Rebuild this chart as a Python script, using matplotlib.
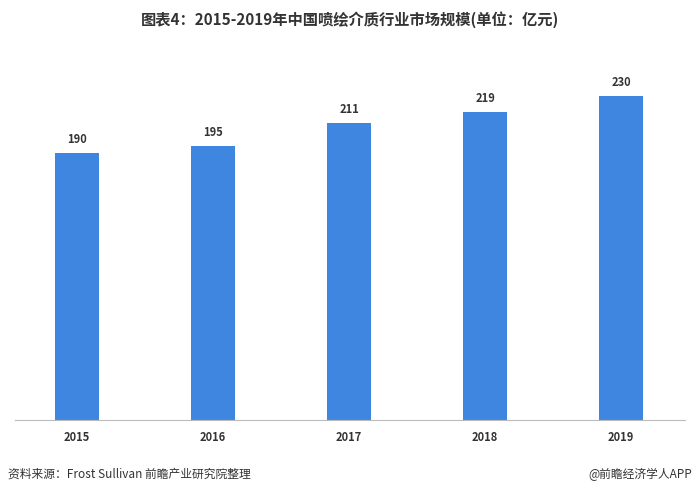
import matplotlib.pyplot as plt

plt.rcParams['font.family'] = ['Noto Sans CJK SC', 'DejaVu Sans']

years = ['2015', '2016', '2017', '2018', '2019']
values = [190, 195, 211, 219, 230]

fig = plt.figure(figsize=(7, 4.96), dpi=100)
# axes spans px x 15..685, y 40..420
ax = fig.add_axes([15 / 700, 1 - 420 / 496, 670 / 700, 380 / 496])
x = range(len(years))
ax.bar(x, values, width=0.32, color='#3F86E0', zorder=2)
for xi, v in zip(x, values):
    ax.text(xi, v + 5, str(v), ha='center', va='bottom', fontsize=8, fontweight='bold', color='#333333')

ax.set_xlim(-0.456, 4.47)
ax.set_ylim(0, 270)
ax.set_xticks(list(x))
ax.set_xticklabels(years, fontsize=8, fontweight='bold', color='#333333')
ax.set_yticks([])
for s in ['top', 'right', 'left']:
    ax.spines[s].set_visible(False)
ax.spines['bottom'].set_color('#BBBBBB')
ax.tick_params(axis='x', length=0, pad=8)

fig.text(0.5, 1 - 20 / 496, '图表4：2015-2019年中国喷绘介质行业市场规模(单位：亿元)',
         ha='center', va='center', fontsize=11, fontweight='bold', color='#333333')
fig.text(8 / 700, 1 - 474 / 496, '资料来源：Frost Sullivan 前瞻产业研究院整理',
         ha='left', va='center', fontsize=8.5, color='#333333')
fig.text(692 / 700, 1 - 474 / 496, '@前瞻经济学人APP',
         ha='right', va='center', fontsize=8.5, color='#333333')

fig.savefig('out.png', dpi=100)
